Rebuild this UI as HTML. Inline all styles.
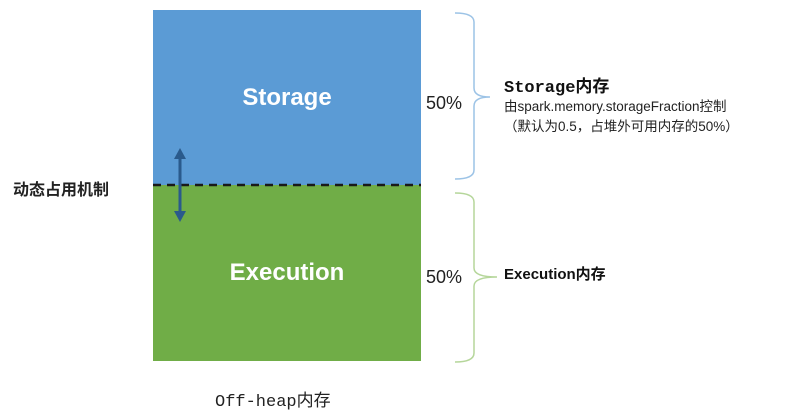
<!DOCTYPE html>
<html><head><meta charset="utf-8"><style>
body{margin:0;width:789px;height:415px;background:#fff;position:relative;overflow:hidden;font-family:"Liberation Sans","Noto Sans CJK SC",sans-serif}
.t{position:absolute;white-space:nowrap}
</style></head><body>
<svg width="789" height="415" style="position:absolute;left:0;top:0">
<rect x="153" y="10" width="268" height="175" fill="#5b9bd5"/>
<rect x="153" y="185" width="268" height="176" fill="#70ad47"/>
<line x1="153" y1="185" x2="421" y2="185" stroke="#1a1a1a" stroke-width="2.5" stroke-dasharray="8,6"/>
<line x1="180" y1="156" x2="180" y2="214" stroke="#2a5a8c" stroke-width="3"/>
<polygon points="174,159 180,148 186,159" fill="#2a5a8c"/>
<polygon points="174,211 180,222 186,211" fill="#2a5a8c"/>
<path d="M455,13 Q474,13 474,22 L474,88 Q474,97 490,97 Q474,97 474,106 L474,170 Q474,179 455,179" fill="none" stroke="#9cc3e6" stroke-width="1.5"/>
<path d="M455,193 Q474,193 474,202 L474,268 Q474,277 497,277 Q474,277 474,286 L474,353 Q474,362 455,362" fill="none" stroke="#b5d69a" stroke-width="1.5"/>
</svg>
<div class="t" style="left:153px;width:268px;text-align:center;top:84px;color:#fff;font-weight:bold;font-size:24px">Storage</div>
<div class="t" style="left:153px;width:268px;text-align:center;top:259px;color:#fff;font-weight:bold;font-size:24px">Execution</div>
<div class="t" style="left:426px;top:93px;font-size:18px;color:#222">50%</div>
<div class="t" style="left:426px;top:267px;font-size:18px;color:#222">50%</div>
<div class="t" style="left:504px;top:72px;font-size:17px;font-weight:bold;font-family:'Liberation Mono','Noto Sans CJK SC',monospace;color:#111">Storage内存</div>
<div class="t" style="left:504px;top:95px;font-size:13.5px;color:#222">由spark.memory.storageFraction控制</div>
<div class="t" style="left:504px;top:115px;font-size:13.5px;color:#222">（默认为0.5，占堆外可用内存的50%）</div>
<div class="t" style="left:504px;top:263px;font-size:15px;font-weight:bold;color:#111">Execution内存</div>
<div class="t" style="left:13px;top:176px;font-size:16px;font-weight:bold;color:#222">动态占用机制</div>
<div class="t" style="left:215px;top:386px;font-size:17px;font-family:'Liberation Mono','Noto Sans CJK SC',monospace;color:#222">Off-heap内存</div>
</body></html>
